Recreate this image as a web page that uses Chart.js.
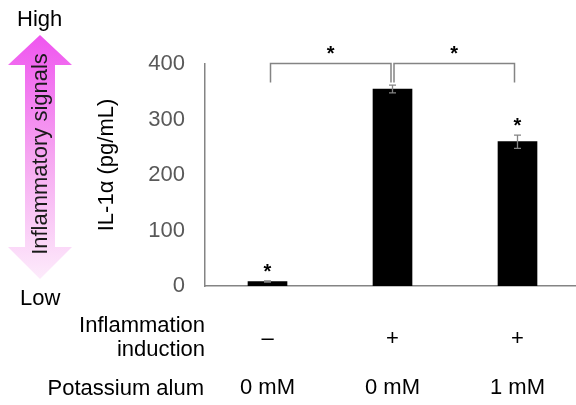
<!DOCTYPE html>
<html>
<head>
<meta charset="utf-8">
<script src="https://cdn.jsdelivr.net/npm/chart.js@4"></script>
<style>
  html, body { margin: 0; padding: 0; background: #fff; overflow: hidden; }
</style>
</head>
<body>
<canvas id="il1Chart" width="580" height="405"></canvas>
<script>
// values
const induction = ['–', '+', '+'];
const alum = ['0 mM', '0 mM', '1 mM'];
const il1a = [8, 355, 260];
const il1aErr = [1, 7, 12];
const singleStars = [true, false, true];
// pairs of bar indices joined by a bracket with "*"
const brackets = [[0, 1], [1, 2]];
const yTicks = [0, 100, 200, 300, 400];

const FONT = '"Liberation Sans", Arial, sans-serif';
const GREY = '#848484';

const extras = {
    id: 'extras',
    beforeDraw(chart) {
        const c = chart.ctx;
        // double arrow on the left
        const grad = c.createLinearGradient(0, 35, 0, 279);
        grad.addColorStop(0, '#ef55ef');
        grad.addColorStop(0.5, '#f6a6f1');
        grad.addColorStop(1, '#fdebfb');
        c.save();
        c.fillStyle = grad;
        c.beginPath();
        c.moveTo(40, 35);
        c.lineTo(72, 65);
        c.lineTo(55, 65);
        c.lineTo(55, 247);
        c.lineTo(72, 247);
        c.lineTo(40, 279);
        c.lineTo(8, 247);
        c.lineTo(25, 247);
        c.lineTo(25, 65);
        c.lineTo(8, 65);
        c.closePath();
        c.fill();
        c.restore();
    },
    afterDatasetsDraw(chart) {
        const c = chart.ctx;
        const x = chart.scales.x, y = chart.scales.y;
        c.save();

        // error bars
        c.strokeStyle = GREY;
        c.lineWidth = 1.3;
        il1a.forEach((v, i) => {
            const px = x.getPixelForValue(i);
            const top = y.getPixelForValue(v + il1aErr[i]);
            const bot = y.getPixelForValue(v - il1aErr[i]);
            c.beginPath();
            c.moveTo(px, top); c.lineTo(px, bot);
            c.moveTo(px - 3.5, top); c.lineTo(px + 3.5, top);
            c.moveTo(px - 3.5, bot); c.lineTo(px + 3.5, bot);
            c.stroke();
        });

        // significance brackets
        c.lineWidth = 1.5;
        const by = 63.5, drop = 82.5;
        c.font = 'bold 20px ' + FONT;
        c.textAlign = 'center';
        c.textBaseline = 'middle';
        brackets.forEach(([a, b], k) => {
            const x1 = x.getPixelForValue(a) + (k === 1 ? 1.5 : 3);
            const x2 = x.getPixelForValue(b) - (k === 0 ? 1.5 : 3);
            c.beginPath();
            c.moveTo(x1, drop); c.lineTo(x1, by); c.lineTo(x2, by); c.lineTo(x2, drop);
            c.stroke();
            c.fillStyle = '#000';
            c.fillText('*', (x1 + x2) / 2, 54);
        });

        // stars over single bars
        il1a.forEach((v, i) => {
            if (!singleStars[i]) return;
            const px = x.getPixelForValue(i);
            c.fillText('*', px, y.getPixelForValue(v + il1aErr[i]) - 9);
        });

        // texts
        c.font = '22px ' + FONT;
        c.fillStyle = '#000';
        c.textAlign = 'left';
        c.fillText('High', 17, 20);
        c.fillText('Low', 20, 299);

        c.textAlign = 'right';
        c.fillText('Inflammation', 205, 326);
        c.fillText('induction', 205, 350);
        c.fillText('Potassium alum', 204, 389);

        c.save();
        c.translate(41, 154);
        c.rotate(-Math.PI / 2);
        c.textAlign = 'center';
        c.fillStyle = '#1a1a1a';
        c.fillText('Inflammatory signals', 0, 0);
        c.restore();

        c.save();
        c.translate(107, 165);
        c.rotate(-Math.PI / 2);
        c.textAlign = 'center';
        c.fillText('IL-1α (pg/mL)', 0, 0);
        c.restore();

        c.restore();
    }
};

new Chart(document.getElementById('il1Chart'), {
    type: 'bar',
    data: {
        labels: induction.map((s, i) => [s, '', alum[i]]),
        datasets: [{
            data: il1a,
            backgroundColor: '#000',
            borderWidth: 0,
            barThickness: 39
        }]
    },
    options: {
        responsive: false,
        animation: false,
        devicePixelRatio: 1,
        layout: { padding: { top: 64, right: 0, left: 0, bottom: 0 } },
        plugins: { legend: { display: false }, tooltip: { enabled: false } },
        scales: {
            x: {
                grid: { display: false, drawTicks: true, tickLength: 41 },
                border: { display: true, color: GREY, width: 1.5 },
                ticks: {
                    color: '#000',
                    font: { family: FONT, size: 22, lineHeight: 1.114 },
                    padding: 0,
                    maxRotation: 0,
                    autoSkip: false
                },
                afterFit(s) { s.height = 119; }
            },
            y: {
                min: 0,
                max: 400,
                afterBuildTicks(s) { s.ticks = yTicks.map(v => ({ value: v })); },
                grid: { display: false, drawTicks: false },
                border: { display: true, color: GREY, width: 1.5 },
                ticks: {
                    color: '#595959',
                    font: { family: FONT, size: 22 },
                    padding: 20
                },
                afterFit(s) { s.width = 205; }
            }
        }
    },
    plugins: [extras]
});
</script>
</body>
</html>
